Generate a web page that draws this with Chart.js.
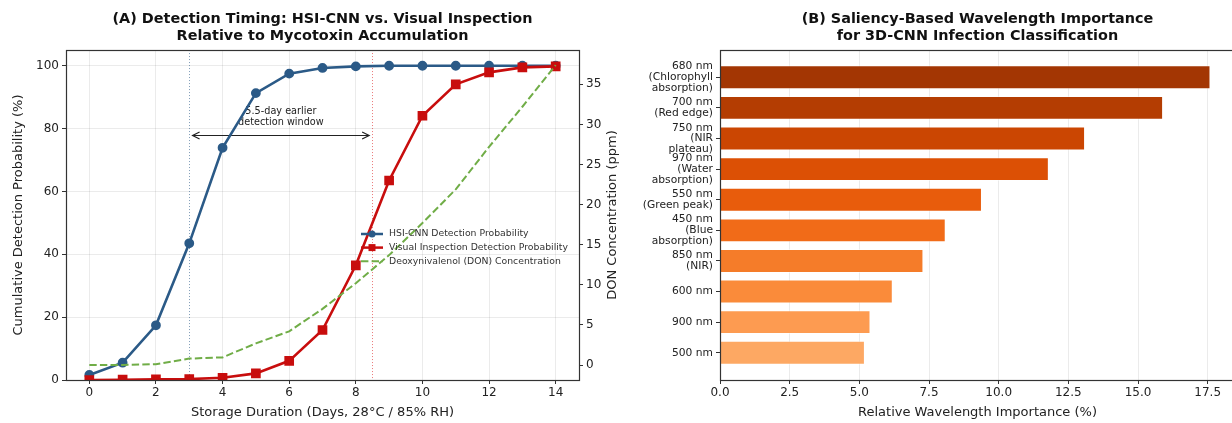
<!DOCTYPE html>
<html>
<head>
<meta charset="utf-8">
<script src="https://cdn.jsdelivr.net/npm/chart.js@4.4.1/dist/chart.umd.min.js"></script>
<style>
  html, body { margin: 0; padding: 0; background: #fff; overflow: hidden; }
  #wrap { position: relative; width: 1232px; height: 423px; overflow: hidden; }
  #left { position: absolute; left: 0; top: 0; }
  #right { position: absolute; left: 615px; top: 0; }
</style>
</head>
<body>
<div id="wrap">
  <canvas id="left" width="640" height="423"></canvas>
  <canvas id="right" width="625" height="423"></canvas>
</div>
<script>
// ---- data: panel A ----
const days = [0, 1, 2, 3, 4, 5, 6, 7, 8, 9, 10, 11, 12, 13, 14];
const hsiProb = [1.6, 5.5, 17.4, 43.5, 73.9, 91.3, 97.5, 99.3, 99.8, 100, 100, 100, 100, 100, 100];
const visualProb = [0, 0.1, 0.2, 0.3, 0.7, 2.1, 6.1, 15.9, 36.5, 63.5, 84.1, 94.1, 97.9, 99.5, 99.8];
const donPpm = [0, 0, 0.1, 0.8, 0.95, 2.7, 4.2, 7.0, 10.2, 13.7, 17.7, 21.9, 27.2, 32.2, 37.4];
const dayTicks = [0, 2, 4, 6, 8, 10, 12, 14];
const probTicks = [0, 20, 40, 60, 80, 100];
const donTicks = [0, 5, 10, 15, 20, 25, 30, 35];
const hsiDetectDay = 3;
const visualDetectDay = 8.5;

// ---- data: panel B ----
const wavelengthLabels = [
  ['680 nm', '(Chlorophyll', 'absorption)'],
  ['700 nm', '(Red edge)'],
  ['750 nm', '(NIR', 'plateau)'],
  ['970 nm', '(Water', 'absorption)'],
  ['550 nm', '(Green peak)'],
  ['450 nm', '(Blue', 'absorption)'],
  ['850 nm', '(NIR)'],
  ['600 nm'],
  ['900 nm'],
  ['500 nm']
];
const importance = [17.6, 15.9, 13.1, 11.8, 9.4, 8.1, 7.3, 6.2, 5.4, 5.2];
const importanceTicks = [0, 2.5, 5, 7.5, 10, 12.5, 15, 17.5];
const barColors = ['#a33603', '#b43d02', '#cb4602', '#dc5005', '#e85c0c',
                   '#f16b18', '#f57c29', '#fa8b3a', '#fd9b51', '#fda863'];

const FONT = 'DejaVu Sans';
const BLUE = '#2b5a87';
const RED = '#c80d0d';
const GREEN = '#70ad47';
const GRID = 'rgba(0,0,0,0.08)';
const INK = '#222';

Chart.defaults.font.family = FONT;
Chart.defaults.color = INK;

const setTicks = (vals) => (scale) => { scale.ticks = vals.map(v => ({ value: v })); };

const framePlugin = {
  id: 'frame',
  afterDatasetsDraw(chart) {
    const { ctx, chartArea: a } = chart;
    ctx.save();
    ctx.strokeStyle = '#333';
    ctx.lineWidth = 1.2;
    ctx.strokeRect(Math.round(a.left) + 0.5, Math.round(a.top) + 0.5,
                   Math.round(a.right - a.left), Math.round(a.bottom - a.top));
    ctx.restore();
  }
};

// dotted detection markers, arrow and its text (under the lines)
const windowPlugin = {
  id: 'window',
  beforeDatasetsDraw(chart) {
    const { ctx, chartArea: a, scales } = chart;
    const x = scales.x, y = scales.y;
    ctx.save();
    ctx.lineWidth = 1;
    ctx.setLineDash([1, 2]);
    [[hsiDetectDay, 'rgba(43,90,135,0.6)'], [visualDetectDay, 'rgba(220,30,30,0.6)']].forEach(([d, c]) => {
      const px = Math.round(x.getPixelForValue(d)) + 0.5;
      ctx.strokeStyle = c;
      ctx.beginPath(); ctx.moveTo(px, a.top); ctx.lineTo(px, a.bottom); ctx.stroke();
    });
    ctx.setLineDash([]);
    const x0 = x.getPixelForValue(hsiDetectDay + 0.1);
    const x1 = x.getPixelForValue(visualDetectDay - 0.1);
    const py = Math.round(y.getPixelForValue(78)) + 0.5;
    ctx.strokeStyle = '#222';
    ctx.lineWidth = 1.2;
    ctx.beginPath();
    ctx.moveTo(x0, py); ctx.lineTo(x1, py);
    ctx.moveTo(x0 + 7, py - 3.5); ctx.lineTo(x0, py); ctx.lineTo(x0 + 7, py + 3.5);
    ctx.moveTo(x1 - 7, py - 3.5); ctx.lineTo(x1, py); ctx.lineTo(x1 - 7, py + 3.5);
    ctx.stroke();
    const tx = x.getPixelForValue((hsiDetectDay + visualDetectDay) / 2);
    ctx.fillStyle = '#222';
    ctx.font = '9.7px ' + FONT;
    ctx.textAlign = 'center';
    ctx.textBaseline = 'middle';
    ctx.fillText('5.5-day earlier', tx, y.getPixelForValue(85.4));
    ctx.fillText('detection window', tx, y.getPixelForValue(81.9));
    ctx.restore();
  }
};

const legendPlugin = {
  id: 'innerLegend',
  afterDatasetsDraw(chart) {
    const { ctx, chartArea: a } = chart;
    const rows = [
      { text: 'HSI-CNN Detection Probability', color: BLUE, marker: 'circle' },
      { text: 'Visual Inspection Detection Probability', color: RED, marker: 'square' },
      { text: 'Deoxynivalenol (DON) Concentration', color: GREEN, marker: null }
    ];
    const hx0 = a.right - 218, hx1 = a.right - 196, tx = a.right - 190;
    ctx.save();
    ctx.font = '9.3px ' + FONT;
    ctx.textBaseline = 'middle';
    rows.forEach((r, i) => {
      const yy = 234 + i * 13.6;
      ctx.strokeStyle = r.color;
      ctx.fillStyle = r.color;
      ctx.lineWidth = r.marker ? 2.5 : 2;
      ctx.setLineDash(r.marker ? [] : [7.4, 3.2]);
      ctx.beginPath(); ctx.moveTo(hx0, yy); ctx.lineTo(hx1, yy); ctx.stroke();
      ctx.setLineDash([]);
      const cx = (hx0 + hx1) / 2;
      if (r.marker === 'circle') { ctx.beginPath(); ctx.arc(cx, yy, 3.5, 0, Math.PI * 2); ctx.fill(); }
      if (r.marker === 'square') { ctx.fillRect(cx - 3.5, yy - 3.5, 7, 7); }
      ctx.fillStyle = '#333';
      ctx.fillText(r.text, tx, yy);
    });
    ctx.restore();
  }
};

// matplotlib-style right label reads bottom-to-top
const donTitlePlugin = {
  id: 'donTitle',
  afterDraw(chart) {
    const { ctx, chartArea: a } = chart;
    ctx.save();
    ctx.translate(613, (a.top + a.bottom) / 2);
    ctx.rotate(-Math.PI / 2);
    ctx.font = '13px ' + FONT;
    ctx.fillStyle = INK;
    ctx.textAlign = 'center';
    ctx.textBaseline = 'middle';
    ctx.fillText('DON Concentration (ppm)', 0, 0);
    ctx.restore();
  }
};

const titleOpts = (lines) => ({
  display: true,
  text: lines,
  fullSize: false,
  color: '#111',
  font: { size: 14.4, weight: 'bold', lineHeight: 1.2 },
  padding: { top: 10.5, bottom: 5 }
});

const tickFont = { size: 12 };

new Chart(document.getElementById('left'), {
  type: 'line',
  data: {
    labels: days,
    datasets: [
      {
        label: 'HSI-CNN Detection Probability',
        data: days.map((d, i) => ({ x: d, y: hsiProb[i] })),
        yAxisID: 'y', borderColor: BLUE, backgroundColor: BLUE,
        borderWidth: 2.6, pointRadius: 3.6, pointStyle: 'circle', order: 2
      },
      {
        label: 'Visual Inspection Detection Probability',
        data: days.map((d, i) => ({ x: d, y: visualProb[i] })),
        yAxisID: 'y', borderColor: RED, backgroundColor: RED,
        borderWidth: 2.6, pointRadius: 5, pointStyle: 'rect', order: 1
      },
      {
        label: 'Deoxynivalenol (DON) Concentration',
        data: days.map((d, i) => ({ x: d, y: donPpm[i] })),
        yAxisID: 'y1', borderColor: GREEN, borderDash: [7.4, 3.2],
        borderWidth: 2, pointRadius: 0, order: 0
      }
    ]
  },
  options: {
    responsive: false,
    animation: false,
    devicePixelRatio: 1,
    layout: { padding: 0 },
    plugins: {
      legend: { display: false },
      tooltip: { enabled: false },
      title: titleOpts(['(A) Detection Timing: HSI-CNN vs. Visual Inspection',
                        'Relative to Mycotoxin Accumulation'])
    },
    scales: {
      x: {
        type: 'linear', min: -0.7, max: 14.7,
        afterBuildTicks: setTicks(dayTicks),
        afterFit: s => { s.height = 43; },
        border: { display: false },
        grid: { color: GRID, tickLength: 4, tickColor: '#333' },
        ticks: { font: tickFont, padding: 2, color: INK },
        title: { display: true, text: 'Storage Duration (Days, 28°C / 85% RH)',
                 font: { size: 13 }, color: INK, padding: { top: 0, bottom: 3 } }
      },
      y: {
        position: 'left', min: 0, max: 105,
        afterBuildTicks: setTicks(probTicks),
        afterFit: s => { s.width = 66; },
        border: { display: false },
        grid: { color: GRID, tickLength: 4, tickColor: '#333' },
        ticks: { font: tickFont, padding: 3, color: INK },
        title: { display: true, text: 'Cumulative Detection Probability (%)',
                 font: { size: 13 }, color: INK, padding: { top: 11, bottom: 0 } }
      },
      y1: {
        position: 'right', min: -1.87, max: 39.27,
        afterBuildTicks: setTicks(donTicks),
        afterFit: s => { s.width = 61; },
        border: { display: false },
        grid: { drawOnChartArea: false, tickLength: 4, tickColor: '#333' },
        ticks: { font: tickFont, padding: 3, color: INK }
      }
    }
  },
  plugins: [windowPlugin, framePlugin, legendPlugin, donTitlePlugin]
});

new Chart(document.getElementById('right'), {
  type: 'bar',
  data: {
    datasets: [{
      label: 'Relative Wavelength Importance (%)',
      data: importance.map((v, i) => ({ x: v, y: i })),
      backgroundColor: barColors,
      borderColor: 'rgba(255,255,255,0.45)',
      borderWidth: 1,
      barPercentage: 0.78,
      categoryPercentage: 1
    }]
  },
  options: {
    indexAxis: 'y',
    responsive: false,
    animation: false,
    devicePixelRatio: 1,
    layout: { padding: { right: 5, left: 0, top: 0, bottom: 0 } },
    plugins: {
      legend: { display: false },
      tooltip: { enabled: false },
      title: titleOpts(['(B) Saliency-Based Wavelength Importance',
                        'for 3D-CNN Infection Classification'])
    },
    scales: {
      x: {
        type: 'linear', min: 0, max: 18.48,
        afterBuildTicks: setTicks(importanceTicks),
        afterFit: s => { s.height = 43; },
        border: { display: false },
        grid: { color: GRID, tickLength: 4, tickColor: '#333' },
        ticks: { font: tickFont, padding: 2, color: INK, callback: v => v.toFixed(1) },
        title: { display: true, text: 'Relative Wavelength Importance (%)',
                 font: { size: 13 }, color: INK, padding: { top: 0, bottom: 3 } }
      },
      y: {
        type: 'linear', reverse: true, min: -0.89, max: 9.89,
        offset: false,
        afterBuildTicks: setTicks(wavelengthLabels.map((_, i) => i)),
        afterFit: s => { s.width = 105; },
        border: { display: false },
        grid: { offset: false, drawOnChartArea: false, tickLength: 4, tickColor: '#333' },
        ticks: { font: { size: 10.7, lineHeight: 1.0 }, padding: 3, color: INK,
                 autoSkip: false, callback: v => wavelengthLabels[v] }
      }
    }
  },
  plugins: [framePlugin]
});
</script>
</body>
</html>
